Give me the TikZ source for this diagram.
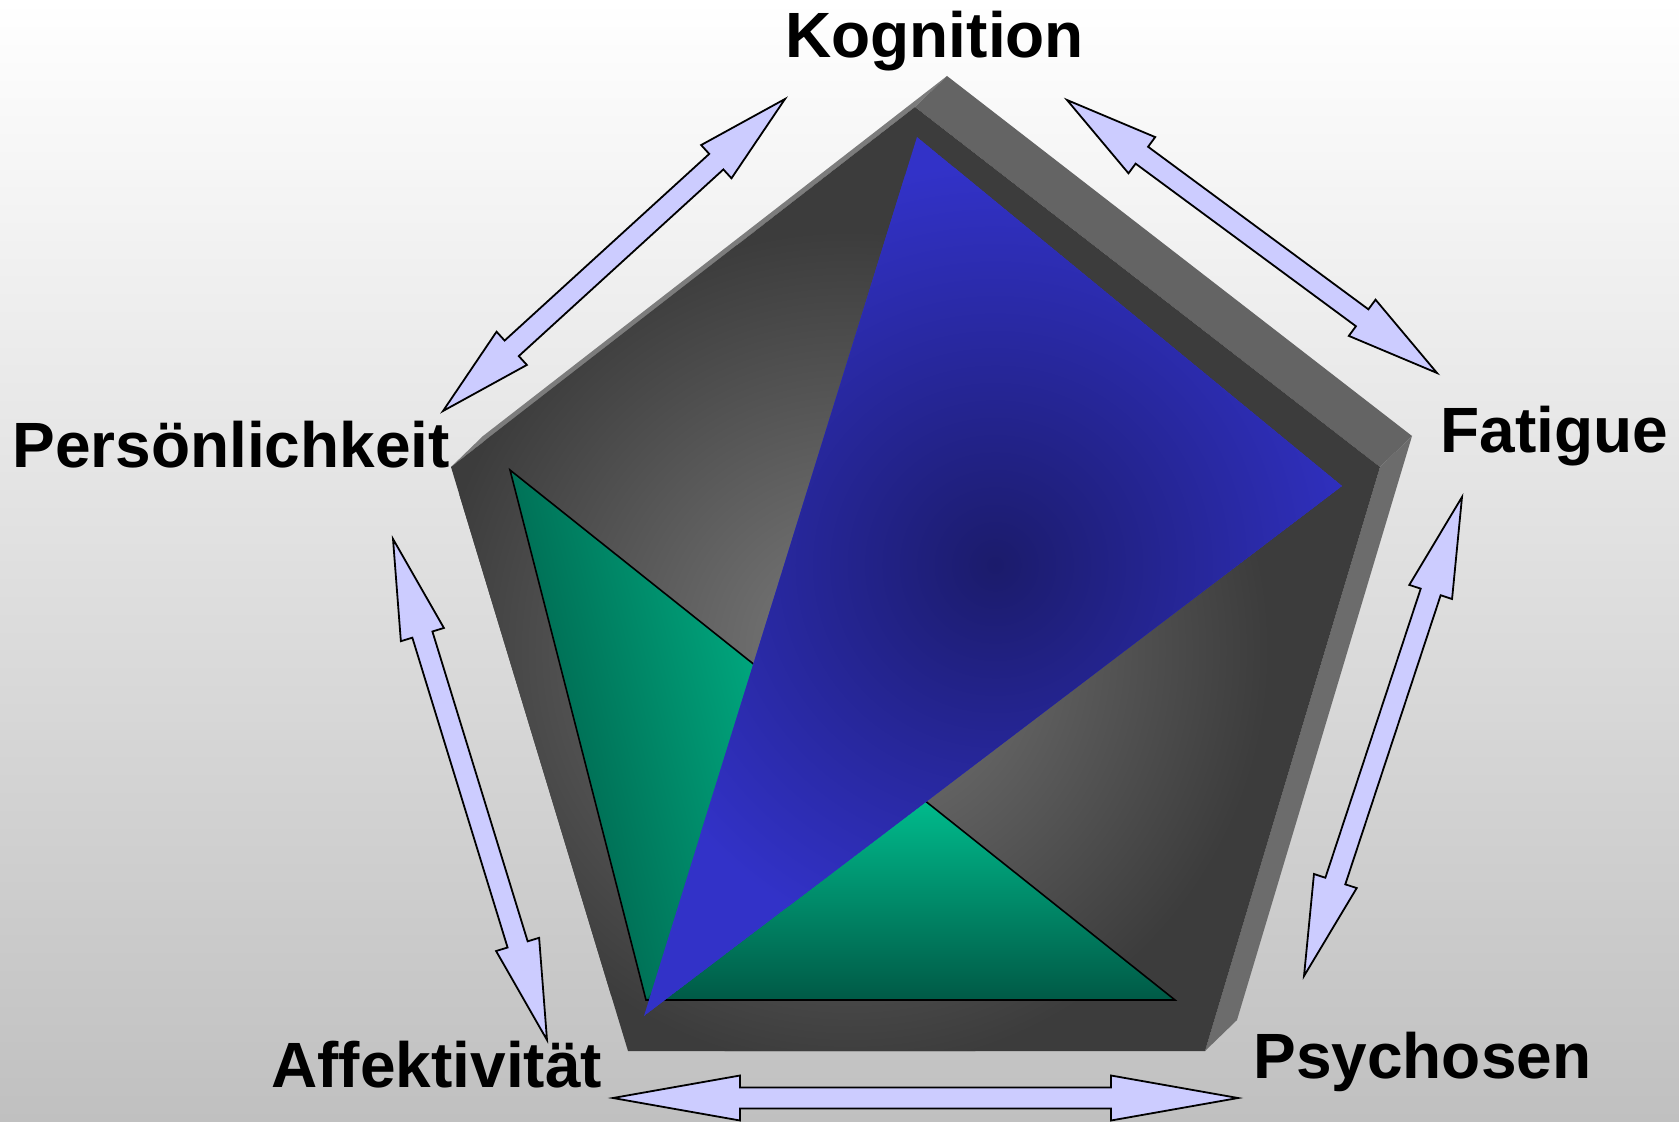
\documentclass[tikz,border=0pt]{standalone}
\usepackage{fontspec}
\setmainfont{Liberation Sans}
\usetikzlibrary{calc}

\definecolor{bgbottom}{HTML}{C0C0C0}
\definecolor{sidelight}{HTML}{7C7C7C}
\definecolor{sidegray}{HTML}{646464}
\definecolor{sidemid}{HTML}{6C6C6C}
\definecolor{facedark}{HTML}{3C3C3C}
\definecolor{facelight}{HTML}{7A7A7A}
\definecolor{greenlo}{HTML}{005A46}
\definecolor{greenhi}{HTML}{00C090}
\definecolor{navy}{HTML}{1B1B6B}
\definecolor{blueedge}{HTML}{3232C8}
\definecolor{arrowfill}{HTML}{CCCCFF}

% double block arrow between two coordinates, optional head length
\newcommand{\blockarrow}[3][46.5pt]{%
  \path ($(#2)!#1!(#3)$) coordinate (h1) ($(#3)!#1!(#2)$) coordinate (h2);
  \filldraw[twoway] (#2) -- ($(h1)!11.25pt!90:(#3)$) -- ($(h1)!5.25pt!90:(#3)$)
    -- ($(h2)!5.25pt!-90:(#2)$) -- ($(h2)!11.25pt!-90:(#2)$) -- (#3)
    -- ($(h2)!11.25pt!90:(#2)$) -- ($(h2)!5.25pt!90:(#2)$)
    -- ($(h1)!5.25pt!-90:(#3)$) -- ($(h1)!11.25pt!-90:(#3)$) -- cycle;}

\begin{document}
\begin{tikzpicture}[x=0.5pt, y=-0.5pt,
  factor/.style={font=\fontsize{32}{36}\selectfont\bfseries, inner sep=0pt, anchor=base west},
  twoway/.style={fill=arrowfill, draw=black, line width=0.9pt, line join=miter}]
\useasboundingbox (0,0) rectangle (1679,1122);
\shade[top color=white, bottom color=bgbottom] (0,0) rectangle (1679,1122);

% pentagon, front and back corners
\coordinate (L) at (451,467);
\coordinate (T) at (915,107);
\coordinate (R) at (1380,467);
\coordinate (BR) at (1205,1051);
\coordinate (BL) at (628,1051);
\coordinate (Lb) at (483,436);
\coordinate (Tb) at (947,76);
\coordinate (Rb) at (1412,436);
\coordinate (BRb) at (1237,1020);

\fill[sidelight] (L) -- (Lb) -- (Tb) -- (T) -- cycle;
\fill[sidegray] (T) -- (Tb) -- (Rb) -- (R) -- cycle;
\fill[sidemid] (R) -- (Rb) -- (BRb) -- (BR) -- cycle;
\begin{scope}
  \clip (L) -- (T) -- (R) -- (BR) -- (BL) -- cycle;
  \fill[facedark] (0,0) rectangle (1679,1122);
  \shade[inner color=facelight, outer color=facedark] (850,650) circle (420);
\end{scope}

% green triangle
\coordinate (G1) at (510,470);
\coordinate (G2) at (646,1000);
\coordinate (G3) at (1175,1000);
\begin{scope}
  \clip (G1) -- (G2) -- (G3) -- cycle;
  \shade[top color=greenhi, bottom color=greenlo] (640,790) rectangle (1180,1000);
  \clip (G1) -- (G2) -- (840,733) -- cycle;
  \shade[top color=greenhi, bottom color=greenlo, shading angle=-75.6]
    (G1) -- (G2) -- (835,951) -- (699,421) -- cycle;
\end{scope}
\draw[line width=0.8pt] (G1) -- (G2) -- (G3) -- cycle;

% blue triangle
\coordinate (B1) at (917,137);
\coordinate (B2) at (1342,486);
\coordinate (B3) at (644,1016);
\begin{scope}
  \clip (B1) -- (B2) -- (B3) -- cycle;
  \fill[blueedge] (B1) -- (B2) -- (B3) -- cycle;
  \shade[inner color=navy, outer color=blueedge] (995,565) circle (400);
\end{scope}

\node[factor] (kog) at (785,58) {Kognition};
\node[factor] (per) at (12,467) {Persönlichkeit};
\node[factor] (fat) at (1440,452) {Fatigue};
\node[factor] (aff) at (271,1087) {Affektivität};
\node[factor] (psy) at (1253,1078) {Psychosen};

% arrows between the factors
\coordinate (kp1) at (785,99);
\coordinate (kp2) at (443,411);
\coordinate (kf1) at (1067,100);
\coordinate (kf2) at (1437,373);
\coordinate (fp1) at (1462,497);
\coordinate (fp2) at (1304,976);
\coordinate (pa1) at (1238,1098);
\coordinate (pa2) at (613,1098);
\coordinate (ap1) at (547,1040);
\coordinate (ap2) at (393,539);
\blockarrow{kp1}{kp2}
\blockarrow{kf1}{kf2}
\blockarrow[50pt]{fp1}{fp2}
\blockarrow[63.5pt]{pa1}{pa2}
\blockarrow[50pt]{ap1}{ap2}
\end{tikzpicture}
\end{document}
